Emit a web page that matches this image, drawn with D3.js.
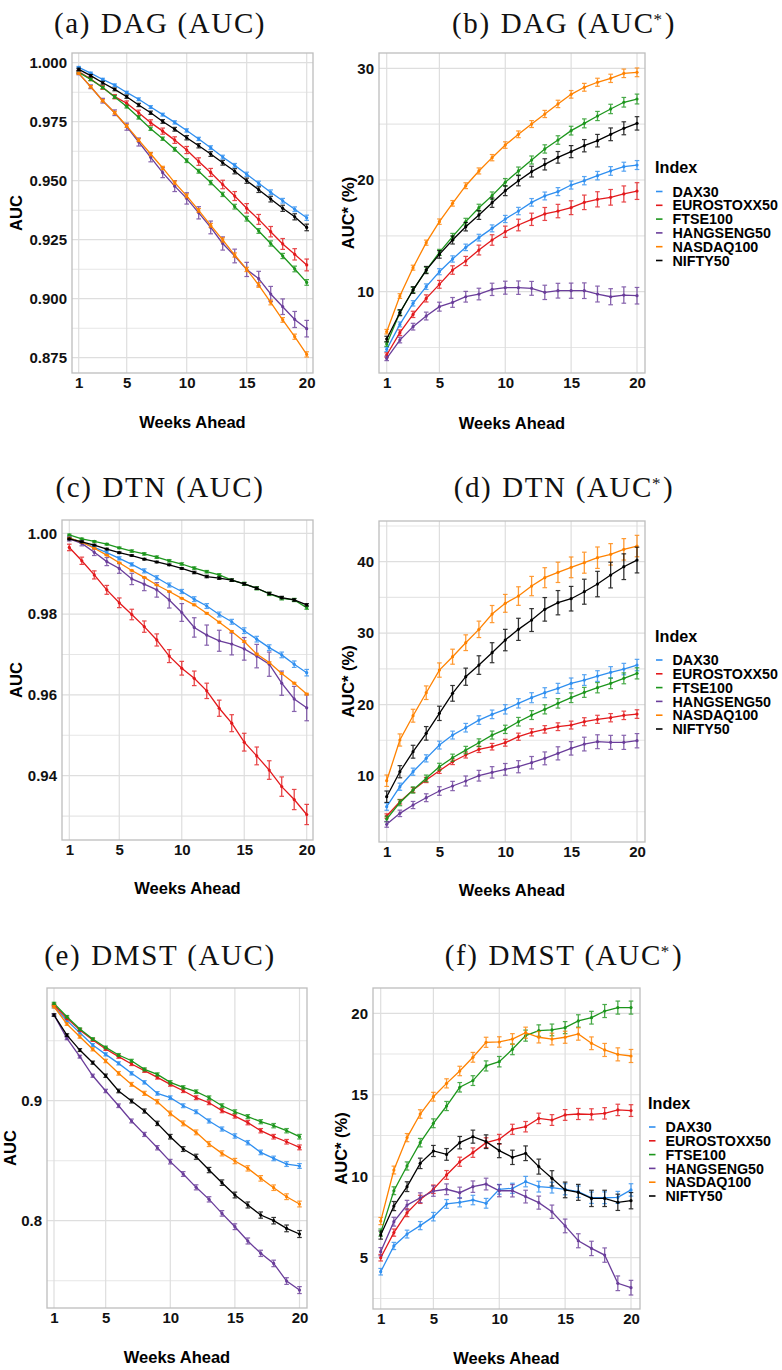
<!DOCTYPE html>
<html>
<head>
<meta charset="utf-8">
<script src="https://cdn.jsdelivr.net/npm/d3@7"></script>
<style>
body { margin: 0; background: #fff; }
svg { display: block; }
</style>
</head>
<body>
<div id="chart"></div>
<script>
var weeks = d3.range(1, 21);
var indices = ["DAX30", "EUROSTOXX50", "FTSE100", "HANGSENG50", "NASDAQ100", "NIFTY50"];
var colors = ["#2f8ff0", "#e3191c", "#1c961c", "#6a3d9a", "#ff8200", "#000000"];

// values per index, same order as `indices`
var dagAuc = [
  [0.9980,0.9956,0.9929,0.9905,0.9874,0.9845,0.9812,0.9780,0.9747,0.9713,0.9677,0.9640,0.9600,0.9565,0.9527,0.9489,0.9451,0.9415,0.9379,0.9343],
  [0.9962,0.9931,0.9895,0.9856,0.9828,0.9788,0.9746,0.9710,0.9672,0.9630,0.9581,0.9535,0.9484,0.9435,0.9383,0.9336,0.9284,0.9232,0.9188,0.9143],
  [0.9959,0.9929,0.9895,0.9855,0.9814,0.9768,0.9720,0.9678,0.9633,0.9585,0.9540,0.9492,0.9442,0.9390,0.9339,0.9287,0.9234,0.9181,0.9126,0.9069],
  [0.9955,0.9898,0.9839,0.9788,0.9729,0.9664,0.9599,0.9534,0.9477,0.9425,0.9364,0.9302,0.9234,0.9181,0.9124,0.9085,0.9020,0.8966,0.8912,0.8873],
  [0.9955,0.9898,0.9839,0.9788,0.9732,0.9672,0.9613,0.9554,0.9492,0.9436,0.9374,0.9311,0.9249,0.9185,0.9124,0.9058,0.8984,0.8910,0.8839,0.8764],
  [0.9972,0.9945,0.9915,0.9887,0.9856,0.9821,0.9788,0.9751,0.9718,0.9682,0.9648,0.9613,0.9576,0.9540,0.9500,0.9462,0.9422,0.9383,0.9347,0.9302]
];
var dagAucErr = [
  [0.0004,0.0004,0.0005,0.0005,0.0005,0.0006,0.0006,0.0006,0.0007,0.0007,0.0007,0.0008,0.0008,0.0008,0.0009,0.0009,0.0010,0.0010,0.0010,0.0011],
  [0.0006,0.0007,0.0008,0.0009,0.0010,0.0011,0.0012,0.0013,0.0014,0.0015,0.0016,0.0017,0.0018,0.0019,0.0020,0.0021,0.0022,0.0023,0.0024,0.0025],
  [0.0004,0.0005,0.0005,0.0006,0.0006,0.0007,0.0007,0.0007,0.0008,0.0008,0.0008,0.0009,0.0009,0.0010,0.0010,0.0010,0.0011,0.0011,0.0012,0.0012],
  [0.0006,0.0008,0.0010,0.0012,0.0015,0.0017,0.0019,0.0021,0.0023,0.0024,0.0026,0.0027,0.0028,0.0029,0.0030,0.0031,0.0032,0.0033,0.0034,0.0035],
  [0.0004,0.0005,0.0005,0.0006,0.0006,0.0006,0.0007,0.0007,0.0007,0.0008,0.0008,0.0008,0.0009,0.0009,0.0009,0.0010,0.0010,0.0010,0.0011,0.0011],
  [0.0005,0.0005,0.0006,0.0006,0.0007,0.0007,0.0007,0.0008,0.0008,0.0009,0.0009,0.0010,0.0010,0.0011,0.0011,0.0012,0.0012,0.0013,0.0013,0.0014]
];

var dagAucStar = [
  [4.84,7.07,8.96,10.45,11.79,12.93,13.97,14.84,15.67,16.51,17.22,18.00,18.57,18.96,19.55,19.94,20.39,20.81,21.19,21.34],
  [4.33,6.33,7.97,9.40,10.66,11.94,12.75,13.73,14.63,15.37,15.97,16.48,16.96,17.22,17.52,18.00,18.27,18.45,18.75,19.01],
  [5.31,8.12,10.15,11.94,13.52,14.93,16.27,17.52,18.60,19.79,20.81,21.79,22.78,23.58,24.42,25.07,25.73,26.36,26.96,27.25],
  [4.03,5.67,6.87,7.82,8.66,9.04,9.55,9.79,10.21,10.36,10.36,10.30,9.94,10.09,10.09,10.09,9.79,9.55,9.70,9.64],
  [6.42,9.61,12.15,14.39,16.27,17.91,19.49,20.81,22.00,23.13,24.09,25.01,25.91,26.81,27.67,28.30,28.75,29.10,29.55,29.64],
  [5.76,8.12,10.15,11.94,13.34,14.63,15.82,16.87,17.97,19.04,19.94,20.75,21.40,22.03,22.54,23.07,23.52,24.09,24.63,25.07]
];
var dagAucStarErr = [
  [0.20,0.22,0.24,0.25,0.27,0.28,0.29,0.30,0.31,0.32,0.33,0.34,0.35,0.36,0.36,0.37,0.38,0.39,0.40,0.40],
  [0.20,0.25,0.28,0.32,0.35,0.38,0.41,0.44,0.47,0.50,0.52,0.55,0.58,0.60,0.62,0.65,0.68,0.70,0.72,0.75],
  [0.20,0.22,0.24,0.26,0.27,0.29,0.30,0.31,0.33,0.34,0.35,0.36,0.37,0.38,0.39,0.40,0.41,0.42,0.43,0.44],
  [0.20,0.25,0.30,0.35,0.40,0.44,0.48,0.52,0.55,0.58,0.60,0.62,0.64,0.66,0.68,0.70,0.71,0.72,0.73,0.74],
  [0.20,0.21,0.22,0.23,0.24,0.25,0.26,0.27,0.28,0.29,0.30,0.31,0.32,0.33,0.34,0.35,0.36,0.37,0.38,0.39],
  [0.25,0.27,0.30,0.32,0.34,0.36,0.38,0.40,0.42,0.44,0.46,0.48,0.50,0.52,0.54,0.55,0.56,0.57,0.58,0.60]
];

var dtnAuc = [
  [0.9988,0.9978,0.9965,0.9952,0.9938,0.9923,0.9907,0.9890,0.9872,0.9856,0.9837,0.9820,0.9799,0.9781,0.9759,0.9738,0.9717,0.9699,0.9676,0.9655],
  [0.9965,0.9932,0.9897,0.9860,0.9828,0.9799,0.9769,0.9736,0.9696,0.9666,0.9641,0.9610,0.9567,0.9530,0.9483,0.9449,0.9414,0.9373,0.9341,0.9304],
  [0.9996,0.9986,0.9980,0.9973,0.9964,0.9956,0.9949,0.9941,0.9932,0.9924,0.9914,0.9905,0.9897,0.9884,0.9875,0.9864,0.9850,0.9839,0.9835,0.9816],
  [0.9986,0.9975,0.9953,0.9930,0.9913,0.9887,0.9874,0.9860,0.9835,0.9804,0.9767,0.9748,0.9734,0.9726,0.9714,0.9696,0.9676,0.9629,0.9590,0.9568],
  [0.9988,0.9978,0.9963,0.9946,0.9927,0.9908,0.9891,0.9872,0.9856,0.9839,0.9823,0.9802,0.9780,0.9757,0.9732,0.9701,0.9680,0.9653,0.9629,0.9602],
  [0.9986,0.9979,0.9971,0.9961,0.9952,0.9945,0.9936,0.9929,0.9922,0.9913,0.9903,0.9893,0.9889,0.9884,0.9875,0.9864,0.9851,0.9841,0.9835,0.9823]
];
var dtnAucErr = [
  [0.0003,0.0003,0.0003,0.0004,0.0004,0.0004,0.0005,0.0005,0.0005,0.0005,0.0006,0.0006,0.0006,0.0006,0.0007,0.0007,0.0007,0.0007,0.0008,0.0008],
  [0.0008,0.0009,0.0010,0.0011,0.0012,0.0013,0.0014,0.0015,0.0016,0.0017,0.0018,0.0019,0.0020,0.0021,0.0022,0.0022,0.0023,0.0024,0.0025,0.0025],
  [0.0002,0.0002,0.0002,0.0002,0.0002,0.0003,0.0003,0.0003,0.0003,0.0003,0.0003,0.0003,0.0003,0.0003,0.0004,0.0004,0.0004,0.0004,0.0004,0.0004],
  [0.0005,0.0006,0.0008,0.0010,0.0012,0.0014,0.0016,0.0018,0.0020,0.0022,0.0024,0.0025,0.0026,0.0027,0.0028,0.0029,0.0030,0.0030,0.0031,0.0032],
  [0.0001,0.0001,0.0001,0.0001,0.0001,0.0001,0.0001,0.0001,0.0001,0.0001,0.0002,0.0002,0.0002,0.0002,0.0002,0.0002,0.0002,0.0002,0.0002,0.0002],
  [0.0002,0.0002,0.0002,0.0002,0.0002,0.0002,0.0002,0.0002,0.0002,0.0002,0.0003,0.0003,0.0003,0.0003,0.0003,0.0003,0.0003,0.0003,0.0003,0.0003]
];

var dtnAucStar = [
  [5.70,8.50,10.60,12.47,14.33,15.73,16.76,17.83,18.63,19.33,20.17,20.96,21.66,22.27,22.97,23.43,23.99,24.51,24.97,25.53],
  [4.40,6.40,8.04,9.44,10.74,12.00,12.94,13.73,14.10,14.66,15.50,16.11,16.53,16.90,17.13,17.60,17.93,18.16,18.49,18.67],
  [3.98,6.26,8.04,9.67,11.30,12.56,13.63,14.66,15.73,16.53,17.60,18.53,19.33,20.17,20.96,21.71,22.36,22.97,23.67,24.37],
  [3.23,4.77,5.94,6.96,7.90,8.60,9.30,10.04,10.51,10.93,11.30,11.86,12.47,13.17,13.87,14.47,14.80,14.71,14.71,14.94],
  [9.34,15.04,18.44,21.66,24.83,26.70,28.66,30.53,32.67,34.17,35.19,36.59,37.76,38.51,39.21,39.86,40.56,41.03,41.73,42.19],
  [7.10,10.60,13.40,15.97,18.77,21.57,23.90,25.53,27.26,29.03,30.53,31.83,33.33,34.26,34.82,35.80,36.87,38.13,39.30,40.23]
];
var dtnAucStarErr = [
  [0.50,0.50,0.50,0.50,0.55,0.55,0.60,0.60,0.60,0.65,0.65,0.70,0.70,0.70,0.75,0.75,0.75,0.80,0.80,0.80],
  [0.30,0.32,0.34,0.36,0.38,0.40,0.42,0.44,0.46,0.48,0.50,0.50,0.52,0.54,0.55,0.56,0.57,0.58,0.59,0.60],
  [0.40,0.42,0.44,0.46,0.48,0.50,0.52,0.54,0.56,0.58,0.60,0.62,0.64,0.66,0.68,0.70,0.72,0.74,0.76,0.78],
  [0.40,0.45,0.50,0.55,0.60,0.65,0.70,0.75,0.80,0.82,0.85,0.87,0.90,0.92,0.94,0.96,0.97,0.98,0.99,1.00],
  [0.80,0.85,0.90,0.95,1.00,1.05,1.10,1.15,1.20,1.25,1.30,1.35,1.40,1.42,1.45,1.47,1.50,1.50,1.50,1.50],
  [0.80,0.85,0.90,0.95,1.00,1.10,1.20,1.30,1.40,1.50,1.55,1.60,1.65,1.70,1.72,1.75,1.78,1.80,1.80,1.80]
];

var dmstAuc = [
  [0.9783,0.9667,0.9567,0.9464,0.9386,0.9311,0.9228,0.9153,0.9061,0.9025,0.8958,0.8908,0.8831,0.8764,0.8706,0.8650,0.8569,0.8519,0.8472,0.8456],
  [0.9797,0.9686,0.9589,0.9506,0.9431,0.9367,0.9306,0.9250,0.9194,0.9136,0.9083,0.9025,0.8983,0.8917,0.8872,0.8817,0.8750,0.8700,0.8658,0.8611],
  [0.9811,0.9700,0.9597,0.9514,0.9444,0.9381,0.9333,0.9261,0.9219,0.9153,0.9111,0.9075,0.9025,0.8958,0.8908,0.8867,0.8825,0.8792,0.8750,0.8700],
  [0.9714,0.9519,0.9367,0.9208,0.9081,0.8958,0.8831,0.8719,0.8608,0.8492,0.8389,0.8278,0.8178,0.8061,0.7950,0.7831,0.7728,0.7644,0.7497,0.7422],
  [0.9783,0.9639,0.9533,0.9428,0.9331,0.9228,0.9136,0.9061,0.8992,0.8894,0.8811,0.8736,0.8639,0.8561,0.8497,0.8436,0.8353,0.8275,0.8200,0.8139],
  [0.9714,0.9547,0.9422,0.9317,0.9208,0.9081,0.8997,0.8914,0.8811,0.8700,0.8597,0.8533,0.8422,0.8317,0.8214,0.8131,0.8047,0.8000,0.7936,0.7889]
];
var dmstAucErr = [
  [0.0010,0.0011,0.0012,0.0012,0.0013,0.0013,0.0014,0.0014,0.0015,0.0015,0.0016,0.0016,0.0017,0.0017,0.0018,0.0018,0.0019,0.0019,0.0020,0.0020],
  [0.0010,0.0011,0.0011,0.0012,0.0012,0.0013,0.0013,0.0014,0.0014,0.0015,0.0015,0.0016,0.0016,0.0017,0.0017,0.0018,0.0018,0.0019,0.0019,0.0020],
  [0.0009,0.0010,0.0010,0.0011,0.0011,0.0012,0.0012,0.0013,0.0013,0.0014,0.0014,0.0015,0.0015,0.0016,0.0016,0.0017,0.0017,0.0018,0.0018,0.0019],
  [0.0010,0.0011,0.0012,0.0013,0.0014,0.0015,0.0016,0.0017,0.0018,0.0019,0.0020,0.0021,0.0022,0.0023,0.0024,0.0025,0.0026,0.0027,0.0028,0.0029],
  [0.0010,0.0011,0.0012,0.0013,0.0014,0.0015,0.0016,0.0017,0.0018,0.0019,0.0020,0.0020,0.0021,0.0021,0.0022,0.0022,0.0023,0.0023,0.0024,0.0024],
  [0.0010,0.0011,0.0012,0.0013,0.0014,0.0015,0.0016,0.0017,0.0018,0.0019,0.0020,0.0021,0.0022,0.0023,0.0024,0.0025,0.0026,0.0027,0.0028,0.0029]
];

var dmstAucStar = [
  [4.14,5.72,6.45,6.97,7.52,8.30,8.40,8.54,8.34,9.20,9.26,9.67,9.36,9.30,9.20,9.05,8.68,8.68,8.70,9.16],
  [5.00,6.54,7.76,8.58,9.20,10.08,10.89,11.45,12.06,12.27,12.88,13.04,13.55,13.45,13.76,13.82,13.80,13.86,14.07,14.03],
  [6.54,9.11,10.63,12.06,13.25,14.31,15.46,15.87,16.77,17.03,17.79,18.63,18.94,18.98,19.12,19.53,19.73,20.14,20.35,20.35],
  [5.37,7.21,8.23,8.68,9.09,9.20,8.99,9.36,9.52,9.11,9.11,8.75,8.38,7.82,6.95,6.04,5.57,5.16,3.43,3.16],
  [7.25,10.38,12.37,13.82,14.88,15.70,16.46,17.30,18.22,18.24,18.42,18.81,18.53,18.42,18.53,18.73,18.16,17.75,17.48,17.38],
  [6.39,8.17,9.36,10.79,11.55,11.34,12.06,12.43,12.12,11.57,11.16,11.41,10.59,9.87,9.16,9.01,8.64,8.64,8.40,8.50]
];
var dmstAucStarErr = [
  [0.20,0.22,0.24,0.25,0.26,0.27,0.28,0.29,0.30,0.30,0.31,0.32,0.33,0.33,0.34,0.35,0.35,0.36,0.37,0.38],
  [0.20,0.22,0.24,0.25,0.26,0.27,0.28,0.29,0.30,0.30,0.31,0.32,0.32,0.33,0.33,0.34,0.34,0.35,0.35,0.36],
  [0.22,0.24,0.25,0.26,0.27,0.28,0.29,0.30,0.31,0.32,0.33,0.34,0.35,0.36,0.37,0.38,0.39,0.40,0.40,0.40],
  [0.25,0.27,0.29,0.30,0.32,0.33,0.34,0.35,0.36,0.37,0.38,0.39,0.40,0.41,0.42,0.43,0.44,0.44,0.45,0.45],
  [0.22,0.24,0.25,0.26,0.27,0.28,0.29,0.30,0.31,0.32,0.33,0.34,0.35,0.36,0.37,0.38,0.39,0.40,0.40,0.40],
  [0.25,0.28,0.30,0.32,0.34,0.36,0.38,0.40,0.42,0.43,0.44,0.45,0.46,0.47,0.48,0.49,0.50,0.50,0.50,0.50]
];

var xTicks = [1, 5, 10, 15, 20];

var panels = [
  { tag: "(a)", name: "DAG", star: false, vals: dagAuc, errs: dagAucErr,
    left: 72, right: 313, top: 53, bottom: 373, x1: 78.7, x20: 306.7,
    yRef: [[1.0, 62.7], [0.875, 357.7]], ticks: [0.875, 0.9, 0.925, 0.95, 0.975, 1.0], fmt: ".3f",
    minor: [0.8875, 0.9125, 0.9375, 0.9625, 0.9875],
    titleX: 160, titleY: 33, yTitleX: 16, xTitleY: 427.5, legendX: null },
  { tag: "(b)", name: "DAG", star: true, vals: dagAucStar, errs: dagAucStarErr,
    left: 379, right: 645, top: 53, bottom: 373, x1: 386.7, x20: 637,
    yRef: [[30, 68.3], [10, 291.7]], ticks: [10, 20, 30], fmt: "d",
    minor: [5, 15, 25],
    titleX: 564, titleY: 33, yTitleX: 348, xTitleY: 429, legendX: 655 },
  { tag: "(c)", name: "DTN", star: false, vals: dtnAuc, errs: dtnAucErr,
    left: 62, right: 313, top: 520, bottom: 840, x1: 69.3, x20: 306.7,
    yRef: [[1.0, 533.3], [0.94, 775.7]], ticks: [0.94, 0.96, 0.98, 1.0], fmt: ".2f",
    minor: [0.93, 0.95, 0.97, 0.99],
    titleX: 160, titleY: 497, yTitleX: 16, xTitleY: 894, legendX: null },
  { tag: "(d)", name: "DTN", star: true, vals: dtnAucStar, errs: dtnAucStarErr,
    left: 379, right: 645, top: 521, bottom: 842, x1: 386.7, x20: 637,
    yRef: [[40, 561.7], [10, 776]], ticks: [10, 20, 30, 40], fmt: "d",
    minor: [5, 15, 25, 35, 45],
    titleX: 564, titleY: 497, yTitleX: 348, xTitleY: 896, legendX: 655 },
  { tag: "(e)", name: "DMST", star: false, vals: dmstAuc, errs: dmstAucErr,
    left: 47, right: 307, top: 988, bottom: 1308, x1: 54, x20: 299.5,
    yRef: [[0.9, 1100.7], [0.8, 1220.7]], ticks: [0.8, 0.9], fmt: ".1f",
    minor: [0.75, 0.85, 0.95],
    titleX: 160, titleY: 965, yTitleX: 10, xTitleY: 1362.5, legendX: null },
  { tag: "(f)", name: "DMST", star: true, vals: dmstAucStar, errs: dmstAucStarErr,
    left: 373, right: 640, top: 988, bottom: 1309, x1: 380.7, x20: 631,
    yRef: [[20, 1013.3], [5, 1257.7]], ticks: [5, 10, 15, 20], fmt: "d",
    minor: [2.5, 7.5, 12.5, 17.5],
    titleX: 564, titleY: 965, yTitleX: 341, xTitleY: 1364, legendX: 648 }
];

var svg = d3.select("#chart").append("svg")
  .attr("width", 782)
  .attr("height", 1370)
  .style("font-family", "'Liberation Sans', Arial, sans-serif");

panels.forEach(function(p) {
  var x = d3.scaleLinear().domain([1, 20]).range([p.x1, p.x20]);
  var y = d3.scaleLinear().domain([p.yRef[0][0], p.yRef[1][0]]).range([p.yRef[0][1], p.yRef[1][1]]);
  var g = svg.append("g");
  var w = p.right - p.left;

  // panel title (LaTeX-like serif)
  var t = svg.append("text")
    .attr("x", p.titleX).attr("y", p.titleY)
    .attr("text-anchor", "middle")
    .style("font-family", "'Liberation Serif', 'Times New Roman', serif")
    .style("font-size", "29px")
    .style("letter-spacing", "1.6px")
    .attr("fill", "#111");
  t.append("tspan").text(p.tag);
  t.append("tspan").attr("dx", 10).text(p.name);
  t.append("tspan").attr("dx", 9).text(p.star ? "(AUC" : "(AUC)");
  if (p.star) {
    t.append("tspan").attr("dy", -8).attr("dx", -1).style("font-size", "17px").text("*");
    t.append("tspan").attr("dy", 8).attr("dx", 1).text(")");
  }

  // grid
  g.selectAll(".minor").data(p.minor).enter().append("line")
    .attr("x1", p.left).attr("x2", p.right)
    .attr("y1", d => y(d)).attr("y2", d => y(d))
    .attr("stroke", "#e6e6e6").attr("stroke-width", 1.1);
  g.selectAll(".major").data(p.ticks).enter().append("line")
    .attr("x1", p.left).attr("x2", p.right)
    .attr("y1", d => y(d)).attr("y2", d => y(d))
    .attr("stroke", "#dedede").attr("stroke-width", 1.2);
  g.selectAll(".vgrid").data(xTicks).enter().append("line")
    .attr("x1", d => x(d)).attr("x2", d => x(d))
    .attr("y1", p.top).attr("y2", p.bottom)
    .attr("stroke", "#dedede").attr("stroke-width", 1.2);

  // panel border
  g.append("rect")
    .attr("x", p.left).attr("y", p.top)
    .attr("width", w).attr("height", p.bottom - p.top)
    .attr("fill", "none").attr("stroke", "#bdbdbd").attr("stroke-width", 1.3);

  // axes
  var yAxis = g.append("g")
    .attr("transform", `translate(${p.left}, 0)`)
    .call(d3.axisLeft(y).tickValues(p.ticks).tickFormat(d3.format(p.fmt)).tickSize(0).tickPadding(5));
  var xAxis = g.append("g")
    .attr("transform", `translate(0, ${p.bottom})`)
    .call(d3.axisBottom(x).tickValues(xTicks).tickFormat(d3.format("d")).tickSize(0).tickPadding(4));
  [xAxis, yAxis].forEach(function(a) {
    a.select(".domain").remove();
    a.selectAll("text")
      .style("font-family", "'Liberation Sans', Arial, sans-serif")
      .style("font-size", "15px").style("font-weight", "bold").attr("fill", "#111");
  });

  // axis titles
  g.append("text")
    .attr("x", (p.left + p.right) / 2).attr("y", p.xTitleY)
    .attr("text-anchor", "middle")
    .style("font-size", "16.5px").style("font-weight", "bold")
    .text("Weeks Ahead");
  g.append("text")
    .attr("transform", `translate(${p.yTitleX}, ${(p.top + p.bottom) / 2}) rotate(-90)`)
    .attr("text-anchor", "middle").attr("dy", "0.36em")
    .style("font-size", "16.5px").style("font-weight", "bold")
    .text(p.star ? "AUC* (%)" : "AUC");

  // series
  var line = d3.line().x((d, i) => x(weeks[i])).y(d => y(d));
  p.vals.forEach(function(vals, k) {
    var col = colors[k];
    var s = g.append("g");
    var cap = 2.3;
    var bars = s.selectAll(".eb").data(vals).enter().append("g").attr("opacity", 0.8);
    bars.append("line")
      .attr("x1", (d, i) => x(weeks[i])).attr("x2", (d, i) => x(weeks[i]))
      .attr("y1", (d, i) => y(d - p.errs[k][i])).attr("y2", (d, i) => y(d + p.errs[k][i]))
      .attr("stroke", col).attr("stroke-width", 1.3);
    bars.append("line")
      .attr("x1", (d, i) => x(weeks[i]) - cap).attr("x2", (d, i) => x(weeks[i]) + cap)
      .attr("y1", (d, i) => y(d - p.errs[k][i])).attr("y2", (d, i) => y(d - p.errs[k][i]))
      .attr("stroke", col).attr("stroke-width", 1.2);
    bars.append("line")
      .attr("x1", (d, i) => x(weeks[i]) - cap).attr("x2", (d, i) => x(weeks[i]) + cap)
      .attr("y1", (d, i) => y(d + p.errs[k][i])).attr("y2", (d, i) => y(d + p.errs[k][i]))
      .attr("stroke", col).attr("stroke-width", 1.2);
    s.append("path")
      .attr("d", line(vals))
      .attr("fill", "none").attr("stroke", col).attr("stroke-width", 1.3);
    s.selectAll(".pt").data(vals).enter().append("circle")
      .attr("cx", (d, i) => x(weeks[i])).attr("cy", d => y(d))
      .attr("r", 1.6).attr("fill", col);
  });

  // legend
  if (p.legendX !== null) {
    var mid = (p.top + p.bottom) / 2;
    var lg = svg.append("g");
    lg.append("text")
      .attr("x", p.legendX).attr("y", mid - 40)
      .style("font-size", "16.2px").style("font-weight", "bold")
      .text("Index");
    indices.forEach(function(name, k) {
      var cy = mid - 21.5 + k * 13.8;
      lg.append("line")
        .attr("x1", p.legendX + 1).attr("x2", p.legendX + 7.5)
        .attr("y1", cy).attr("y2", cy)
        .attr("stroke", colors[k]).attr("stroke-width", 1.6);
      lg.append("text")
        .attr("x", p.legendX + 17.5).attr("y", cy).attr("dy", "0.36em")
        .style("font-size", "14.3px").style("font-weight", "bold")
        .text(name);
    });
  }
});
</script>
</body>
</html>
